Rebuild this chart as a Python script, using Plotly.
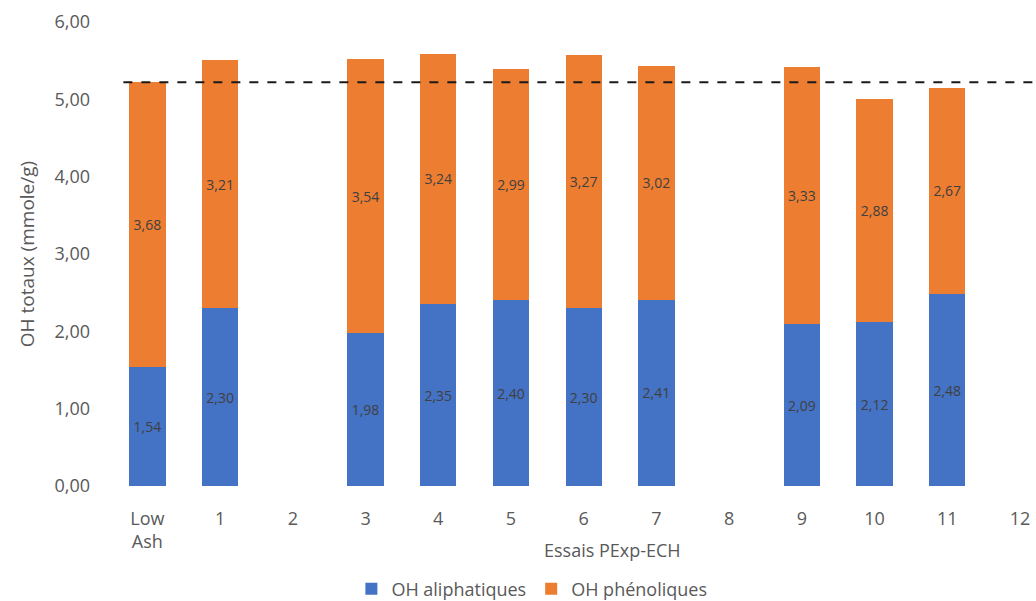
import plotly.graph_objects as go

# Essais and their OH contents (mmole/g)
categories = ["Low<br>Ash", "1", "2", "3", "4", "5", "6", "7", "8", "9", "10", "11", "12"]
oh_aliphatiques = [1.54, 2.30, None, 1.98, 2.35, 2.40, 2.30, 2.41, None, 2.09, 2.12, 2.48, None]
oh_phenoliques = [3.68, 3.21, None, 3.54, 3.24, 2.99, 3.27, 3.02, None, 3.33, 2.88, 2.67, None]

# reference level: total OH of the Low Ash sample
reference_total = oh_aliphatiques[0] + oh_phenoliques[0]

BLUE = "#4472C4"
ORANGE = "#ED7D31"
TEXT = "#595959"
FONT = "Open Sans"

fig = go.Figure()
fig.add_trace(go.Bar(
    x=categories, y=oh_aliphatiques, name="OH aliphatiques",
    marker=dict(color=BLUE, line=dict(width=0)),
    texttemplate="%{y:.2f}", textposition="inside", insidetextanchor="middle",
    textfont=dict(color="#404040", size=14, family=FONT),
))
fig.add_trace(go.Bar(
    x=categories, y=oh_phenoliques, name="OH phénoliques",
    marker=dict(color=ORANGE, line=dict(width=0)),
    texttemplate="%{y:.2f}", textposition="inside", insidetextanchor="middle",
    textfont=dict(color="#404040", size=14, family=FONT),
))

fig.add_shape(
    type="line", xref="x", yref="y",
    x0=-0.33, x1=12.5, y0=reference_total, y1=reference_total,
    line=dict(color="#1a1a1a", width=2, dash="dash"),
)

fig.add_annotation(
    text="Essais PExp-ECH", xref="paper", yref="paper",
    x=0.542, y=-0.138, xanchor="center", yanchor="middle",
    showarrow=False, font=dict(family=FONT, size=18, color=TEXT),
)

fig.update_layout(
    width=1036, height=601,
    margin=dict(l=111, r=0, t=22, b=115, autoexpand=False),
    barmode="stack", bargap=0.5,
    separators=", ",
    plot_bgcolor="white", paper_bgcolor="white",
    font=dict(family=FONT, color=TEXT, size=18),
    showlegend=True,
    legend=dict(
        orientation="h", x=0.455, y=-0.222, xanchor="center", yanchor="middle",
        font=dict(family=FONT, size=18, color=TEXT), traceorder="normal",
        itemsizing="constant", itemwidth=30,
    ),
    xaxis=dict(
        type="category", range=[-0.5, 12.22], automargin=False,
        showline=False, showgrid=False, ticks="",
        ticklabelstandoff=20,
        tickfont=dict(family=FONT, size=18, color=TEXT),
    ),
    yaxis=dict(
        range=[0, 6], dtick=1, tickformat=".2f", automargin=False,
        showline=False, showgrid=False, zeroline=False, ticks="",
        ticklabelstandoff=20,
        tickfont=dict(family=FONT, size=18, color=TEXT),
        title=dict(text="OH totaux (mmole/g)", standoff=14,
                   font=dict(family=FONT, size=19, color=TEXT)),
    ),
)

fig.write_html("out.html")
